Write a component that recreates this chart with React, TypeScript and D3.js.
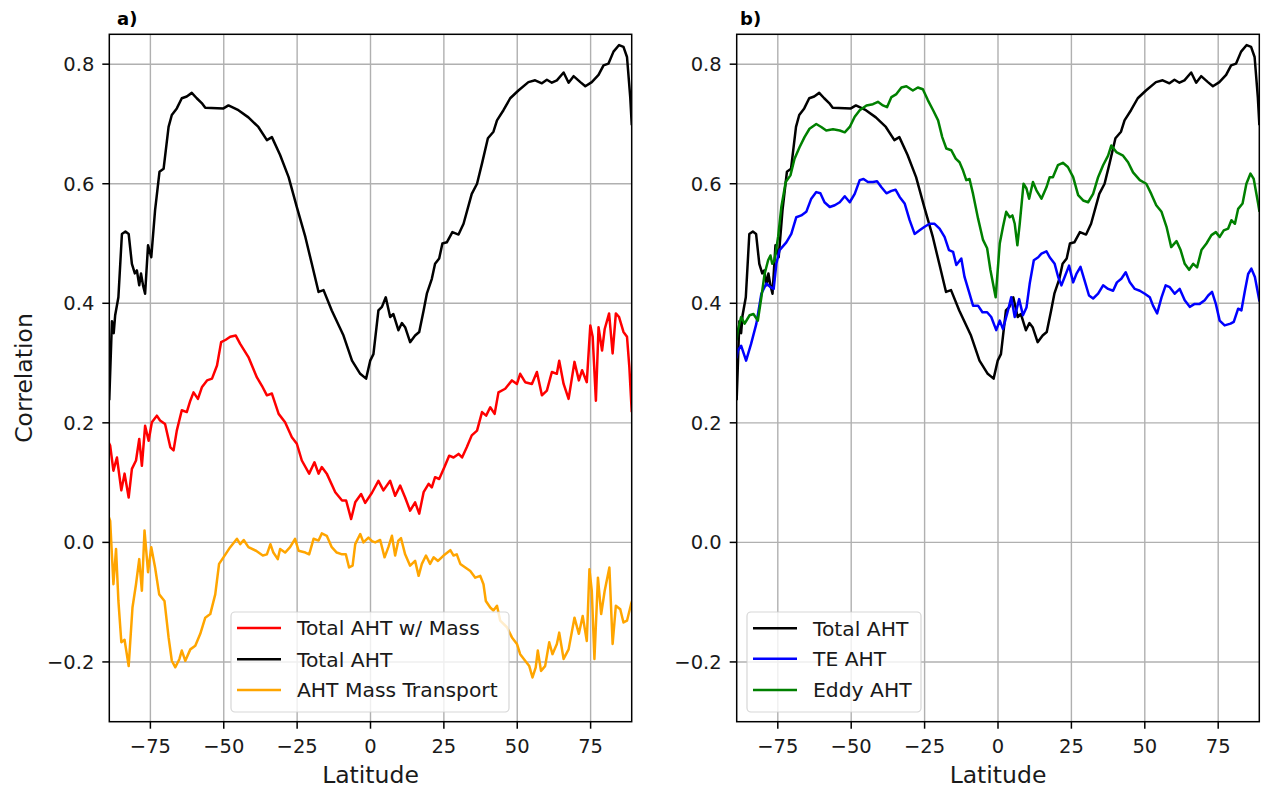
import React from "react";
import * as d3 from "d3";

// Correlation of atmospheric heat transport (AHT) terms against latitude.
type Pt = [number, number];

const xTicks = [-75, -50, -25, 0, 25, 50, 75];
const yTicks = [-0.2, 0.0, 0.2, 0.4, 0.6, 0.8];

const totalAHT: Pt[] = [
  [-89, 0.24], [-88.1, 0.37], [-87.5, 0.35], [-87, 0.38], [-85.9, 0.41], [-84.7, 0.516], [-83.5, 0.52],
  [-82.4, 0.516], [-81.3, 0.466], [-80.3, 0.45], [-79.6, 0.455], [-78.8, 0.43], [-78.2, 0.45], [-77.5, 0.43],
  [-76.8, 0.416], [-75.8, 0.497], [-74.7, 0.477], [-73.4, 0.556], [-71.9, 0.62], [-70.5, 0.625], [-68.8, 0.695],
  [-67.7, 0.715], [-66, 0.726], [-64.3, 0.743], [-62.6, 0.746], [-60.9, 0.752], [-59.2, 0.743], [-57.5, 0.735],
  [-56.3, 0.727], [-50.1, 0.726], [-48.4, 0.731], [-45, 0.723], [-41.6, 0.711], [-38.2, 0.695], [-35.3, 0.673],
  [-33.6, 0.678], [-30.8, 0.648], [-27.9, 0.611], [-25.1, 0.561], [-22.2, 0.511], [-20, 0.466], [-17.7, 0.419],
  [-16, 0.422], [-13.2, 0.388], [-9.2, 0.346], [-6.3, 0.304], [-3.5, 0.282], [-1.5, 0.274], [-0.1, 0.304],
  [1, 0.315], [2.7, 0.388], [3.9, 0.394], [5.2, 0.41], [6.7, 0.377], [7.8, 0.382], [9.5, 0.355], [10.7, 0.367],
  [11.8, 0.36], [13.5, 0.335], [15.2, 0.346], [16.6, 0.352], [18.1, 0.388], [19.2, 0.416], [20.9, 0.441],
  [22, 0.466], [23.4, 0.475], [24.5, 0.5], [26, 0.502], [27.9, 0.519], [30, 0.515], [31.7, 0.533], [34.5, 0.583],
  [36.3, 0.6], [38, 0.634], [40, 0.676], [41.9, 0.687], [43.1, 0.706], [45.3, 0.723], [47.6, 0.743],
  [50.4, 0.756], [53.8, 0.77], [56.1, 0.773], [58.4, 0.768], [60.1, 0.774], [61.8, 0.769], [63.5, 0.773],
  [65.8, 0.786], [67.5, 0.769], [69.2, 0.78], [71.5, 0.77], [73.2, 0.763], [75.4, 0.77], [77.7, 0.782],
  [79.4, 0.798], [81.1, 0.801], [82.8, 0.821], [84.7, 0.832], [86.2, 0.829], [87.4, 0.812], [88.5, 0.745],
  [89, 0.7],
];

const totalWithMass: Pt[] = [
  [-89, 0.165], [-88.7, 0.162], [-87.6, 0.12], [-86.4, 0.142], [-84.9, 0.087], [-83.8, 0.115], [-82.4, 0.075],
  [-81.3, 0.123], [-79.9, 0.137], [-78.8, 0.173], [-77.9, 0.128], [-76.8, 0.195], [-75.6, 0.17], [-74.5, 0.201],
  [-72.8, 0.212], [-71.7, 0.204], [-70, 0.198], [-68.2, 0.159], [-67.1, 0.154], [-66, 0.187], [-64.3, 0.221],
  [-62.6, 0.218], [-61.4, 0.237], [-60.3, 0.251], [-58.8, 0.24], [-57.4, 0.26], [-55.7, 0.271], [-54, 0.274],
  [-52.3, 0.296], [-50.9, 0.335], [-49.3, 0.339], [-47.8, 0.344], [-45.9, 0.346], [-44.4, 0.332], [-41.6, 0.31],
  [-38.7, 0.276], [-37, 0.262], [-35.3, 0.246], [-33.6, 0.249], [-31.3, 0.215], [-29.1, 0.201], [-26.8, 0.176],
  [-25.1, 0.165], [-23.4, 0.137], [-20.9, 0.115], [-19.1, 0.134], [-17.7, 0.115], [-16.6, 0.126], [-14.9, 0.115],
  [-12, 0.084], [-9.7, 0.07], [-8.3, 0.07], [-6.6, 0.039], [-5.2, 0.067], [-3.2, 0.081], [-1.8, 0.066],
  [0.5, 0.083], [2.7, 0.103], [4.4, 0.087], [6.7, 0.103], [8.4, 0.078], [10.1, 0.095], [11.8, 0.075],
  [13.5, 0.053], [15.2, 0.067], [16.6, 0.048], [18.1, 0.084], [19.8, 0.098], [20.9, 0.092], [22, 0.109],
  [23.4, 0.106], [25.2, 0.126], [26.8, 0.145], [28.3, 0.142], [30, 0.148], [31.2, 0.142], [32.8, 0.159],
  [34.5, 0.179], [36.3, 0.187], [38, 0.218], [39.4, 0.212], [40.8, 0.226], [42.3, 0.215], [43.6, 0.251],
  [45.9, 0.257], [48.2, 0.271], [49.9, 0.265], [51, 0.282], [52.7, 0.268], [55, 0.265], [56.7, 0.285],
  [58.4, 0.246], [60.1, 0.254], [61.8, 0.285], [63.5, 0.282], [64.3, 0.304], [65.8, 0.265], [67.5, 0.24],
  [69.5, 0.302], [71, 0.271], [72.1, 0.288], [73.7, 0.268], [74.9, 0.363], [75.7, 0.344], [76.8, 0.237],
  [77.7, 0.36], [78.9, 0.321], [79.8, 0.357], [81.3, 0.383], [82.5, 0.316], [83.6, 0.383], [84.7, 0.377],
  [86.2, 0.352], [87.4, 0.344], [88.2, 0.293], [89, 0.22],
];

const massTransport: Pt[] = [
  [-89, 0.04], [-88.7, 0.036], [-87.6, -0.07], [-86.7, -0.011], [-85.9, -0.098], [-84.9, -0.167], [-83.8, -0.163],
  [-82.4, -0.207], [-81.1, -0.109], [-79.9, -0.07], [-78.8, -0.028], [-77.9, -0.081], [-77, 0.02], [-75.8, -0.05],
  [-74.7, -0.008], [-73.4, -0.042], [-72, -0.087], [-70.2, -0.098], [-68.8, -0.159], [-67.7, -0.198],
  [-66.5, -0.209], [-65.1, -0.195], [-64.3, -0.181], [-63.1, -0.198], [-61.4, -0.179], [-59.7, -0.173],
  [-58, -0.153], [-56.3, -0.126], [-54.6, -0.12], [-52.9, -0.087], [-51.6, -0.036], [-50.1, -0.025],
  [-47.8, -0.008], [-45.5, 0.006], [-44.4, -0.003], [-43.2, 0.004], [-41.6, -0.008], [-39, -0.014],
  [-36.7, -0.022], [-35.3, -0.02], [-34.1, -0.003], [-33.1, -0.017], [-31.6, -0.028], [-30.8, -0.011],
  [-29.1, -0.017], [-27.4, -0.008], [-25.7, 0.006], [-24.5, -0.014], [-22.2, -0.017], [-20.9, -0.02],
  [-19.4, 0.006], [-17.7, 0.003], [-16.6, 0.015], [-14.9, 0.011], [-13.2, -0.008], [-11.5, -0.017],
  [-9.7, -0.02], [-8.4, -0.02], [-7.3, -0.042], [-6.1, -0.039], [-5.2, -0.003], [-3.5, 0.014], [-2.4, 0],
  [-0.7, 0.008], [0.5, 0.002], [1.6, 0], [3.3, 0.004], [4.8, -0.025], [6.1, -0.008], [7.3, 0.011], [8.4, -0.022],
  [9.5, 0.003], [10.4, 0.007], [11.8, -0.02], [13.5, -0.039], [15.2, -0.031], [16.4, -0.056], [17.5, -0.036],
  [18.9, -0.022], [20.3, -0.036], [21.5, -0.025], [23, -0.031], [24.9, -0.022], [27.2, -0.013], [28.3, -0.022],
  [29.4, -0.02], [30.6, -0.036], [32.3, -0.042], [34, -0.048], [35.7, -0.059], [37.4, -0.056], [38.5, -0.07],
  [39.3, -0.098], [40.8, -0.109], [41.9, -0.114], [43.1, -0.106], [44.2, -0.131], [46.5, -0.142],
  [48.2, -0.159], [49.9, -0.17], [51, -0.187], [52.7, -0.198], [54.1, -0.207], [55.2, -0.226], [56.3, -0.209],
  [57, -0.181], [58.1, -0.215], [59.5, -0.207], [60.9, -0.167], [62, -0.187], [63.5, -0.17], [64.3, -0.151],
  [65.8, -0.195], [67.5, -0.179], [69.5, -0.126], [71, -0.153], [72.3, -0.123], [73.7, -0.165], [74.6, -0.045],
  [75.4, -0.081], [76.3, -0.195], [77.5, -0.059], [78.6, -0.12], [79.8, -0.081], [81.4, -0.042], [82.5, -0.17],
  [83.6, -0.106], [85.1, -0.112], [86.2, -0.134], [87.4, -0.131], [88.8, -0.103], [89, -0.1],
];

const teAHT: Pt[] = [
  [-89, 0.31], [-88.6, 0.321], [-87.5, 0.329], [-85.8, 0.304], [-84.1, 0.332], [-82.3, 0.366], [-80.6, 0.416],
  [-78.9, 0.433], [-77.5, 0.427], [-76.4, 0.424], [-75.5, 0.466], [-74.4, 0.489], [-72.1, 0.502], [-70.4, 0.516],
  [-68.7, 0.544], [-67, 0.547], [-65.3, 0.553], [-63.6, 0.575], [-61.9, 0.586], [-60.5, 0.584], [-59.1, 0.569],
  [-57.3, 0.561], [-55.6, 0.564], [-53.9, 0.569], [-52.2, 0.579], [-50.5, 0.569], [-48.8, 0.583], [-47.1, 0.606],
  [-45.8, 0.608], [-44.3, 0.603], [-42.6, 0.603], [-41.2, 0.604], [-39.7, 0.594], [-38, 0.584], [-36.3, 0.588],
  [-34.9, 0.59], [-33.5, 0.578], [-31.8, 0.567], [-30.1, 0.539], [-28.4, 0.516], [-26.7, 0.522], [-25, 0.528],
  [-23.3, 0.533], [-21.6, 0.533], [-19.9, 0.525], [-18.2, 0.511], [-16.7, 0.489], [-15.3, 0.486], [-14.2, 0.464],
  [-12.5, 0.475], [-11.4, 0.444], [-9.7, 0.416], [-8.5, 0.396], [-6.8, 0.396], [-5.3, 0.385], [-3.7, 0.385],
  [-2.3, 0.377], [-0.6, 0.355], [0.6, 0.371], [1.7, 0.357], [3.4, 0.388], [4.5, 0.41], [5.7, 0.377],
  [7.2, 0.407], [8.5, 0.38], [9.7, 0.393], [10.8, 0.433], [12.2, 0.472], [13.7, 0.477], [14.8, 0.483],
  [16.5, 0.487], [17.6, 0.477], [19.3, 0.466], [20.5, 0.444], [21.6, 0.43], [22.7, 0.444], [24.2, 0.463],
  [25.6, 0.435], [26.7, 0.449], [28.1, 0.461], [29.5, 0.438], [31, 0.413], [32.4, 0.408], [34.1, 0.416],
  [35.8, 0.43], [37.5, 0.424], [39.2, 0.421], [40.5, 0.435], [42, 0.441], [43.5, 0.452], [44.9, 0.435],
  [46.6, 0.424], [48.3, 0.421], [50, 0.416], [51.7, 0.41], [52.8, 0.396], [54.2, 0.383], [55.7, 0.41],
  [57.1, 0.43], [58.5, 0.427], [60.2, 0.416], [61.9, 0.424], [63.6, 0.405], [65.3, 0.394], [67, 0.399],
  [68.7, 0.399], [70.4, 0.405], [71.6, 0.413], [72.9, 0.419], [74.2, 0.399], [75.5, 0.371], [77.2, 0.363],
  [79.2, 0.366], [80.3, 0.369], [81.8, 0.391], [82.9, 0.388], [84.1, 0.421], [85.2, 0.449], [86.3, 0.458],
  [87.5, 0.444], [89, 0.405],
];

const eddyAHT: Pt[] = [
  [-89, 0.34], [-88.6, 0.355], [-87.5, 0.377], [-86.3, 0.366], [-84.6, 0.38], [-83.3, 0.382], [-81.8, 0.371],
  [-80.6, 0.41], [-79.5, 0.449], [-78.3, 0.472], [-77.5, 0.48], [-76.9, 0.466], [-76.1, 0.472], [-74.9, 0.511],
  [-73.8, 0.561], [-72.3, 0.603], [-70.7, 0.614], [-69.3, 0.642], [-67.6, 0.661], [-65.9, 0.678], [-64.2, 0.692],
  [-61.9, 0.7], [-60.2, 0.695], [-58.5, 0.689], [-56.2, 0.691], [-53.9, 0.689], [-52.2, 0.686], [-50.5, 0.695],
  [-48.8, 0.712], [-47.1, 0.723], [-44.8, 0.731], [-42.6, 0.733], [-40.9, 0.737], [-39.2, 0.731], [-37.8, 0.728],
  [-36.3, 0.745], [-34.6, 0.75], [-32.9, 0.761], [-31.2, 0.763], [-29, 0.756], [-27.3, 0.761], [-25.6, 0.758],
  [-23.9, 0.74], [-22.1, 0.723], [-20.4, 0.706], [-19, 0.678], [-17.6, 0.659], [-15.9, 0.656], [-14.4, 0.642],
  [-13.1, 0.636], [-11.9, 0.622], [-10.8, 0.606], [-9.7, 0.608], [-8.5, 0.583], [-6.8, 0.542], [-5.1, 0.506],
  [-3.7, 0.492], [-2.6, 0.456], [-0.8, 0.41], [0.6, 0.5], [1.7, 0.528], [2.8, 0.553], [4, 0.544], [4.9, 0.547],
  [5.7, 0.533], [6.6, 0.497], [7.4, 0.533], [8.7, 0.6], [9.7, 0.592], [10.6, 0.575], [11.9, 0.603],
  [13.1, 0.589], [14.8, 0.575], [16.5, 0.594], [17.6, 0.611], [18.7, 0.611], [20.4, 0.631], [22.1, 0.635],
  [23.8, 0.628], [25.6, 0.611], [27.3, 0.581], [29, 0.572], [30.7, 0.569], [32.4, 0.583], [34.1, 0.611],
  [35.8, 0.631], [37.5, 0.647], [38.6, 0.664], [40.3, 0.653], [42.6, 0.647], [44.3, 0.636], [46, 0.619],
  [48.3, 0.606], [50.5, 0.6], [52.2, 0.583], [53.9, 0.564], [55.7, 0.553], [57.4, 0.528], [59, 0.494],
  [60.8, 0.504], [62.2, 0.489], [63.6, 0.466], [65.1, 0.456], [66.5, 0.466], [67.8, 0.46], [69.3, 0.489],
  [71, 0.5], [72.7, 0.514], [74.2, 0.519], [75.5, 0.511], [76.9, 0.522], [78.4, 0.525], [79.5, 0.539],
  [80.7, 0.533], [81.8, 0.558], [83.3, 0.567], [84.6, 0.6], [86, 0.617], [87.1, 0.608], [88.6, 0.567],
  [89, 0.555],
];

type Series = { label: string; color: string; data: Pt[] };

const panelASeries: Series[] = [
  { label: "Total AHT w/ Mass", color: "#ff0000", data: totalWithMass },
  { label: "Total AHT", color: "#000000", data: totalAHT },
  { label: "AHT Mass Transport", color: "#ffa500", data: massTransport },
];

const panelBSeries: Series[] = [
  { label: "Total AHT", color: "#000000", data: totalAHT },
  { label: "TE AHT", color: "#0000ff", data: teAHT },
  { label: "Eddy AHT", color: "#008000", data: eddyAHT },
];

const FONT = "'DejaVu Sans', sans-serif";
const TEXT = "#1a1a1a";
const TICK_FS = 19.5;
const LEGEND_FS = 20.3;

const fmtTick = (v: number, digits: number) => {
  const s = Math.abs(v).toFixed(digits);
  return v < -1e-9 ? "\u2212" + s : s;
};

type PanelProps = {
  id: string;
  left: number;
  right: number;
  top: number;
  bottom: number;
  title: string;
  titleX: number;
  series: Series[];
  legend: { x: number; y: number; w: number; h: number; rows: number[] };
  yLabel?: boolean;
};

function Panel(p: PanelProps) {
  const x = d3.scaleLinear().domain([-89, 89]).range([p.left, p.right]);
  const y = d3.scaleLinear().domain([-0.3, 0.85]).range([p.bottom, p.top]);
  const line = d3
    .line<Pt>()
    .x((d) => x(d[0]))
    .y((d) => y(d[1]));
  const clipId = `clip-${p.id}`;
  const cx = (p.left + p.right) / 2;
  return (
    <g>
      <defs>
        <clipPath id={clipId}>
          <rect x={p.left} y={p.top} width={p.right - p.left} height={p.bottom - p.top} />
        </clipPath>
      </defs>
      {/* grid */}
      {xTicks.map((t) => (
        <line key={`gx${t}`} x1={x(t)} x2={x(t)} y1={p.top} y2={p.bottom} stroke="#b0b0b0" strokeWidth={1.4} />
      ))}
      {yTicks.map((t) => (
        <line key={`gy${t}`} x1={p.left} x2={p.right} y1={y(t)} y2={y(t)} stroke="#b0b0b0" strokeWidth={1.4} />
      ))}
      {/* data */}
      <g clipPath={`url(#${clipId})`}>
        {p.series.map((s) => (
          <path
            key={s.label}
            d={line(s.data) || ""}
            fill="none"
            stroke={s.color}
            strokeWidth={2.5}
            strokeLinejoin="round"
            strokeLinecap="square"
          />
        ))}
      </g>
      {/* frame */}
      <rect
        x={p.left}
        y={p.top}
        width={p.right - p.left}
        height={p.bottom - p.top}
        fill="none"
        stroke="#000"
        strokeWidth={1.5}
      />
      {/* x ticks */}
      {xTicks.map((t) => (
        <g key={`tx${t}`}>
          <line x1={x(t)} x2={x(t)} y1={p.bottom} y2={p.bottom + 7} stroke="#000" strokeWidth={1.5} />
          <text
            x={x(t)}
            y={p.bottom + 31}
            textAnchor="middle"
            fontFamily={FONT}
            fontSize={TICK_FS}
            fill={TEXT}
          >
            {fmtTick(t, 0)}
          </text>
        </g>
      ))}
      {/* y ticks */}
      {yTicks.map((t) => (
        <g key={`ty${t}`}>
          <line x1={p.left - 7} x2={p.left} y1={y(t)} y2={y(t)} stroke="#000" strokeWidth={1.5} />
          <text
            x={p.left - 15}
            y={y(t)}
            dy="0.36em"
            textAnchor="end"
            fontFamily={FONT}
            fontSize={TICK_FS}
            fill={TEXT}
          >
            {fmtTick(t, 1)}
          </text>
        </g>
      ))}
      {/* axis labels */}
      <text x={cx} y={783} textAnchor="middle" fontFamily={FONT} fontSize={23.5} fill={TEXT}>
        Latitude
      </text>
      {p.yLabel && (
        <text
          transform={`translate(32,${(p.top + p.bottom) / 2}) rotate(-90)`}
          textAnchor="middle"
          fontFamily={FONT}
          fontSize={23.5}
          fill={TEXT}
        >
          Correlation
        </text>
      )}
      {/* panel title */}
      <text x={p.titleX} y={25} fontFamily={FONT} fontSize={18} fontWeight="bold" fill="#000">
        {p.title}
      </text>
      {/* legend */}
      <g>
        <rect
          x={p.legend.x}
          y={p.legend.y}
          width={p.legend.w}
          height={p.legend.h}
          rx={4}
          ry={4}
          fill="#ffffff"
          fillOpacity={0.8}
          stroke="#cccccc"
          strokeOpacity={0.8}
          strokeWidth={1.2}
        />
        {p.series.map((s, i) => (
          <g key={`lg${s.label}`}>
            <line
              x1={p.legend.x + 6}
              x2={p.legend.x + 50}
              y1={p.legend.rows[i]}
              y2={p.legend.rows[i]}
              stroke={s.color}
              strokeWidth={2.5}
            />
            <text
              x={p.legend.x + 66}
              y={p.legend.rows[i]}
              dy="0.36em"
              fontFamily={FONT}
              fontSize={LEGEND_FS}
              fill={TEXT}
            >
              {s.label}
            </text>
          </g>
        ))}
      </g>
    </g>
  );
}

export default function App() {
  return (
    <div style={{ position: "absolute", left: 0, top: 0 }}>
      <svg width={1261} height={788} viewBox="0 0 1261 788" style={{ display: "block", background: "#fff" }}>
        <Panel
          id="a"
          left={109.3}
          right={631.7}
          top={34.3}
          bottom={721.7}
          title="a)"
          titleX={117}
          series={panelASeries}
          legend={{ x: 231, y: 612, w: 278, h: 100, rows: [628, 659.3, 690] }}
          yLabel
        />
        <Panel
          id="b"
          left={736.7}
          right={1259.3}
          top={34.3}
          bottom={721.7}
          title="b)"
          titleX={740}
          series={panelBSeries}
          legend={{ x: 747, y: 612, w: 174, h: 100, rows: [628.3, 658.7, 690] }}
        />
      </svg>
    </div>
  );
}
